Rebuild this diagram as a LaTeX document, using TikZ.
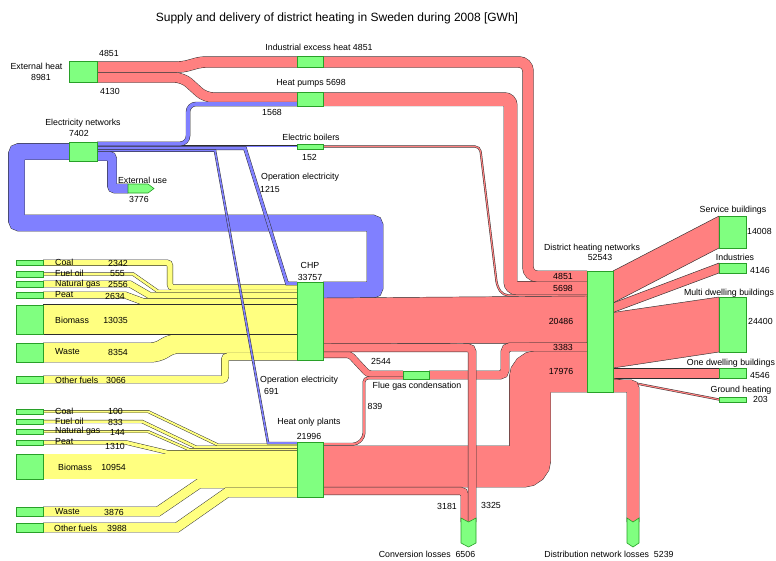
\documentclass[tikz,border=0pt]{standalone}
\usepackage{fontspec}
\setmainfont{Liberation Sans}
\definecolor{fred}{RGB}{255,128,128}
\definecolor{fyel}{RGB}{255,255,128}
\definecolor{fblu}{RGB}{128,128,255}
\definecolor{fgrn}{RGB}{128,255,128}
\definecolor{bordc}{RGB}{45,45,45}
\definecolor{gbord}{RGB}{40,160,40}
\begin{document}
\begin{tikzpicture}[x=1pt,y=-1pt,
  rb/.style={draw=bordc,line width=0.45pt,double=fred,double distance=#1},
  yb/.style={draw=bordc,line width=0.45pt,double=fyel,double distance=#1},
  bb/.style={draw=bordc,line width=0.45pt,double=fblu,double distance=#1},
  poly/.style={fill=fred,draw=bordc,line width=0.45pt},
  gnode/.style={draw=gbord,fill=fgrn,line width=0.6pt,inner sep=0pt,outer sep=0pt},
  lab/.style={inner sep=0pt,font=\fontsize{8.8}{10}\selectfont},
  ttl/.style={inner sep=0pt,font=\fontsize{12}{14}\selectfont}]
\useasboundingbox[fill=white] (0,0) rectangle (776,560);

% ---- electricity loop from CHP to electricity networks
\draw[bb=16pt,rounded corners=3pt] (323,290) -- (375,290) -- (375,223) -- (16.5,223) -- (16.5,151.5) -- (69,151.5);

% ---- fuels to CHP
\draw[yb=19pt,rounded corners=6pt] (43,352.5) -- (157,352.5) -- (172,343.7) -- (297,343.7);
\draw[yb=7pt,rounded corners=3pt] (43,379.5) -- (225,379.5) -- (225,356.7) -- (297,356.7);
\draw[yb=5.4pt,rounded corners=3pt] (43,262.7) -- (170,262.7) -- (170,287.5) -- (297,287.5);
\draw[yb=2.5pt] (43,274) -- (133,274) -- (158,291.45) -- (297,291.45);
\draw[yb=5.9pt] (43,284) -- (130,284) -- (150,295.65) -- (297,295.65);
\draw[yb=6.1pt] (43,295) -- (125,295) -- (143,301.65) -- (297,301.65);
\draw[yb=29.5pt] (43,319.45) -- (297,319.45);

% ---- fuels to heat only plants
\draw[yb=9pt] (43,511.5) -- (158,511.5) -- (199,483.5) -- (297,483.5);
\draw[yb=9pt] (43,527.5) -- (177,527.5) -- (227,492.5) -- (297,492.5);
\draw[yb=2pt] (43,411.5) -- (148,411.5) -- (218,445) -- (297,445);
\draw[yb=2.5pt] (43,421.5) -- (142,421.5) -- (196,447.25) -- (297,447.25);
\draw[yb=2pt] (43,431.5) -- (148,431.5) -- (189,449.5) -- (297,449.5);
\draw[yb=3.5pt] (43,442.5) -- (126,442.5) -- (167,452.25) -- (297,452.25);
\draw[yb=25pt] (43,466.5) -- (297,466.5);

% ---- heat flows
\draw[rb=10.5pt,rounded corners=5pt] (97,67) -- (183,67) -- (201,62) -- (297,62);
\draw[rb=9.5pt,rounded corners=8pt] (97,77.5) -- (183,77.5) -- (205,97.5) -- (297,97.5);
\draw[rb=1.2pt,rounded corners=5pt] (323,146.5) -- (480,146.5) -- (497,286) -- (503,295.3) -- (587,295.3);
\draw[rb=13pt,rounded corners=6pt] (323,99.25) -- (510.5,99.25) -- (510.5,288) -- (587,288);
\draw[rb=10.5pt,rounded corners=9pt] (323,62) -- (528,62) -- (528,276.25) -- (587,276.25);
\filldraw[poly] (323,298) -- (587,296) -- (587,343) -- (323,344) -- cycle;
\draw[rb=41pt,rounded corners=7pt] (323,466.5) -- (530,466.5) -- (530,371.5) -- (587,371.5);
\draw[rb=6pt,rounded corners=3pt] (323,354.6) -- (350,354.6) -- (368,374) -- (403,374);
\draw[rb=2pt,rounded corners=4pt] (323,444.2) -- (357,444.2) -- (364,437) -- (364,378) -- (403,378);
\draw[rb=8pt,rounded corners=5pt] (429,375) -- (505,375) -- (505,347) -- (587,347);
% deliveries
\filldraw[poly] (613,271) -- (719,216) -- (719,248) -- (613,303) -- cycle;
\filldraw[poly] (613,303) -- (719,263) -- (719,273) -- (613,312.5) -- cycle;
\filldraw[poly] (613,312.5) -- (719,297) -- (719,352) -- (613,368) -- cycle;
\filldraw[poly] (613,368) -- (719,368) -- (719,378) -- (613,378) -- cycle;
\draw[rb=1.2pt] (613,379) -- (719,399.5);
\draw[rb=12pt,rounded corners=3pt] (613,386) -- (633,386) -- (633,522);
% conversion losses
\draw[rb=7.3pt,rounded corners=4pt] (323,491) -- (464.6,491) -- (464.6,522);
\draw[rb=7.6pt,rounded corners=4pt] (323,347.8) -- (472.1,347.8) -- (472.1,522);

% ---- electricity deliveries
\draw[bb=1pt] (97,146.2) -- (297,146.2);
\draw[bb=2.8pt] (97,148.3) -- (245,148.3) -- (287,283.4) -- (297,283.4);
\draw[bb=1.6pt] (97,150.6) -- (215,150.6) -- (268,443) -- (297,443);
\draw[bb=3.6pt,rounded corners=8pt] (97,143.8) -- (188,143.8) -- (188,104) -- (297,104);
\draw[bb=9pt,rounded corners=3pt] (97,156) -- (112,156) -- (112,188.5) -- (128,188.5);

% ---- green nodes
\node[gnode,minimum width=28pt,minimum height=21pt] (ext) at (83,72) {};
\node[gnode,minimum width=26pt,minimum height=10.5pt] (ind) at (310,62) {};
\node[gnode,minimum width=26pt,minimum height=13.5pt] (hp) at (310,99.25) {};
\node[gnode,minimum width=28pt,minimum height=19pt] (elec) at (83,151.5) {};
\node[gnode,minimum width=26pt,minimum height=5pt] (boil) at (310,146.5) {};
\node[gnode,minimum width=26pt,minimum height=78pt] (chp) at (310,321) {};
\node[gnode,minimum width=26pt,minimum height=55pt] (hop) at (310,469.5) {};
\node[gnode,minimum width=26pt,minimum height=8pt] (flue) at (416,375) {};
\node[gnode,minimum width=26pt,minimum height=121pt] (dhn) at (600,331.5) {};
\node[gnode,minimum width=27pt,minimum height=32pt] (serv) at (732.5,232) {};
\node[gnode,minimum width=27pt,minimum height=10pt] (indus) at (732.5,268) {};
\node[gnode,minimum width=27pt,minimum height=55pt] (multi) at (732.5,324.5) {};
\node[gnode,minimum width=27pt,minimum height=10pt] (one) at (732.5,373) {};
\node[gnode,minimum width=27pt,minimum height=5pt] (ground) at (732.5,399.5) {};
\node[gnode,minimum width=27pt,minimum height=5.5pt] (ccoal) at (29.5,262.7) {};
\node[gnode,minimum width=27pt,minimum height=6pt] (coil) at (29.5,274) {};
\node[gnode,minimum width=27pt,minimum height=6pt] (cgas) at (29.5,284) {};
\node[gnode,minimum width=27pt,minimum height=6pt] (cpeat) at (29.5,295) {};
\node[gnode,minimum width=27pt,minimum height=29pt] (cbio) at (29.5,319.5) {};
\node[gnode,minimum width=27pt,minimum height=19pt] (cwaste) at (29.5,352.5) {};
\node[gnode,minimum width=27pt,minimum height=7pt] (cother) at (29.5,379.5) {};
\node[gnode,minimum width=27pt,minimum height=5pt] (hcoal) at (29.5,411.5) {};
\node[gnode,minimum width=27pt,minimum height=5pt] (hoil) at (29.5,421.5) {};
\node[gnode,minimum width=27pt,minimum height=5pt] (hgas) at (29.5,431.5) {};
\node[gnode,minimum width=27pt,minimum height=5pt] (hpeat) at (29.5,442.5) {};
\node[gnode,minimum width=27pt,minimum height=25pt] (hbio) at (29.5,466.5) {};
\node[gnode,minimum width=27pt,minimum height=9pt] (hwaste) at (29.5,511.5) {};
\node[gnode,minimum width=27pt,minimum height=9pt] (hother) at (29.5,527.5) {};
\draw[gnode] (128,184) -- (148,184) -- (154,188.5) -- (148,193) -- (128,193) -- cycle;
\draw[gnode] (461,518) -- (468.5,522) -- (476,518) -- (476,543) -- (468.5,547) -- (461,543) -- cycle;
\draw[gnode] (627,518) -- (633,522) -- (639,518) -- (639,543) -- (633,547) -- (627,543) -- cycle;

% ---- labels
\node[ttl] (title) at (337,18) {Supply and delivery of district heating in Sweden during 2008 [GWh]};
\node[lab] (l1) at (36.5,66.5) {External heat};
\node[lab] (l2) at (41,77.5) {8981};
\node[lab] (l3) at (109,53.5) {4851};
\node[lab] (l4) at (110,91) {4130};
\node[lab] (l5) at (319,47.5) {Industrial excess heat 4851};
\node[lab] (l6) at (311,83.5) {Heat pumps 5698};
\node[lab] (l7) at (272,112.5) {1568};
\node[lab] (l8) at (83,123.5) {Electricity networks};
\node[lab] (l9) at (79,133.5) {7402};
\node[lab] (l10) at (311,137.5) {Electric boilers};
\node[lab] (l11) at (309.5,157.5) {152};
\node[lab] (l12) at (142.5,180) {External use};
\node[lab] (l13) at (139,199) {3776};
\node[lab,anchor=west] (l14) at (261,177.5) {Operation electricity};
\node[lab,anchor=west] (l15) at (260,189.5) {1215};
\node[lab] (l16) at (310,265) {CHP};
\node[lab] (l17) at (310,277) {33757};
\node[lab,anchor=west] (l18) at (260,380) {Operation electricity};
\node[lab,anchor=west] (l19) at (264,391.5) {691};
\node[lab] (l20) at (381,361) {2544};
\node[lab] (l21) at (417,386.5) {Flue gas condensation};
\node[lab] (l22) at (375,406) {839};
\node[lab] (l23) at (309,422.5) {Heat only plants};
\node[lab] (l24) at (309,436) {21996};
\node[lab] (l25) at (592,248) {District heating networks};
\node[lab] (l26) at (600,257.5) {52543};
\node[lab] (l27) at (563,276) {4851};
\node[lab] (l28) at (563,288) {5698};
\node[lab] (l29) at (561,321) {20486};
\node[lab] (l30) at (563,347.5) {3383};
\node[lab] (l31) at (561,371) {17976};
\node[lab] (l32) at (733,210) {Service buildings};
\node[lab,anchor=west] (l33) at (747,231) {14008};
\node[lab] (l34) at (735,257) {Industries};
\node[lab,anchor=west] (l35) at (750,270) {4146};
\node[lab] (l36) at (729,293) {Multi dwelling buildings};
\node[lab,anchor=west] (l37) at (748,321) {24400};
\node[lab] (l38) at (731,363) {One dwelling buildings};
\node[lab,anchor=west] (l39) at (750,375) {4546};
\node[lab] (l40) at (741,390.5) {Ground heating};
\node[lab,anchor=west] (l41) at (753,399.5) {203};
\node[lab] (l42) at (447,506) {3181};
\node[lab] (l43) at (491,505) {3325};
\node[lab] (l44) at (427,554) {Conversion losses\ \ 6506};
\node[lab] (l45) at (609,554) {Distribution network losses\ \ 5239};
% CHP fuels
\node[lab,anchor=west] (c1) at (55,262) {Coal};
\node[lab,anchor=east] (c2) at (128,263) {2342};
\node[lab,anchor=west] (c3) at (55,273.5) {Fuel oil};
\node[lab,anchor=east] (c4) at (125,273.5) {555};
\node[lab,anchor=west] (c5) at (55,284.5) {Natural gas};
\node[lab,anchor=east] (c6) at (128,284.5) {2556};
\node[lab,anchor=west] (c7) at (55,294.5) {Peat};
\node[lab,anchor=east] (c8) at (125,296.5) {2634};
\node[lab,anchor=west] (c9) at (55,320) {Biomass};
\node[lab,anchor=east] (c10) at (128,320) {13035};
\node[lab,anchor=west] (c11) at (55,352) {Waste};
\node[lab,anchor=east] (c12) at (128,352) {8354};
\node[lab,anchor=west] (c13) at (55,380) {Other fuels};
\node[lab,anchor=east] (c14) at (126,380) {3066};
% HOP fuels
\node[lab,anchor=west] (h1) at (55,411) {Coal};
\node[lab,anchor=east] (h2) at (123,411) {100};
\node[lab,anchor=west] (h3) at (55,421) {Fuel oil};
\node[lab,anchor=east] (h4) at (123,422) {833};
\node[lab,anchor=west] (h5) at (55,431) {Natural gas};
\node[lab,anchor=east] (h6) at (125,432) {144};
\node[lab,anchor=west] (h7) at (55,441.5) {Peat};
\node[lab,anchor=east] (h8) at (125,446) {1310};
\node[lab,anchor=west] (h9) at (58,467) {Biomass};
\node[lab,anchor=east] (h10) at (126,467) {10954};
\node[lab,anchor=west] (h11) at (55,512) {Waste};
\node[lab,anchor=east] (h12) at (124,512.5) {3876};
\node[lab,anchor=west] (h13) at (54,528) {Other fuels};
\node[lab,anchor=east] (h14) at (127,528.5) {3988};
\end{tikzpicture}
\end{document}
